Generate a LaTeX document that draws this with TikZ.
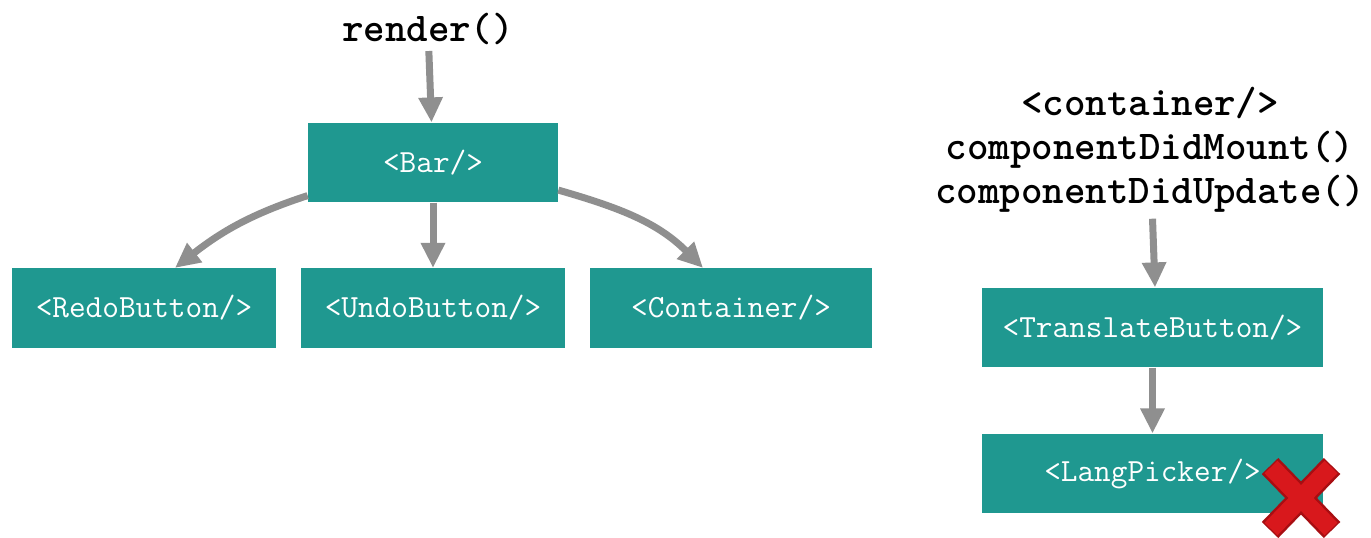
\documentclass[tikz,border=0pt]{standalone}
\usepackage{xcolor}
\usepackage{tikz}
\usetikzlibrary{arrows.meta, positioning}

\definecolor{reactteal}{HTML}{1F9890}
\definecolor{flowgray}{HTML}{8F8F8F}
\definecolor{crossred}{HTML}{D8181C}
\definecolor{crossdark}{HTML}{A80E12}

\begin{document}
\begin{tikzpicture}[x=0.02cm, y=-0.02cm,
				flow/.style={-{Triangle[width=0.46cm,length=0.5cm]},
					draw=flowgray, line width=0.14cm},
				comp/.style={fill=reactteal, text=white, align=center,
					minimum height=1.59cm, inner sep=0pt,
					font=\ttfamily\fontsize{18.4}{20}\selectfont},
				call/.style={align=center,
					font=\ttfamily\bfseries\fontsize{23.3}{25}\selectfont}]
				\useasboundingbox (0,0) rectangle (1371,537);
				% left tree
				\node at (428,29) (render) [call] {render()};
				\node at (433,162.5) (bar) [comp, minimum width=5cm] {<Bar/>};
				\node at (144,308) (redo) [comp, minimum width=5.28cm] {<RedoButton/>};
				\node at (433,308) (undo) [comp, minimum width=5.28cm] {<UndoButton/>};
				\node at (731,308) (container) [comp, minimum width=5.64cm] {<Container/>};
				\draw[flow] (render) -- (bar);
				\draw[flow] ([yshift=0.14cm]bar.south west) to[out=198,in=38] ([xshift=0.62cm]redo.north);
				\draw[flow] (bar) -- (undo);
				\draw[flow] ([yshift=0.25cm]bar.south east) to[out=-16,in=135] ([xshift=-0.56cm]container.north);
				% right tree
				\node at (1150,150) (hooks) [call] {<container/>\\componentDidMount()\\componentDidUpdate()};
				\node at (1152.5,327.5) (translate) [comp, minimum width=6.82cm] {<TranslateButton/>};
				\node at (1152.5,473.5) (picker) [comp, minimum width=6.82cm] {<LangPicker/>};
				\draw[flow] ([xshift=0.05cm]hooks.south) -- ([xshift=0.05cm]translate.north);
				\draw[flow] (translate) -- (picker);
				% cross over the picker
				\begin{scope}[line width=0.46cm, crossdark]
					\draw (1270,466) -- (1332,530);
					\draw (1332,466) -- (1270,530);
				\end{scope}
				\begin{scope}[line width=0.36cm, crossred]
					\draw (1271,467) -- (1331,529);
					\draw (1331,467) -- (1271,529);
				\end{scope}
			\end{tikzpicture}
\end{document}
